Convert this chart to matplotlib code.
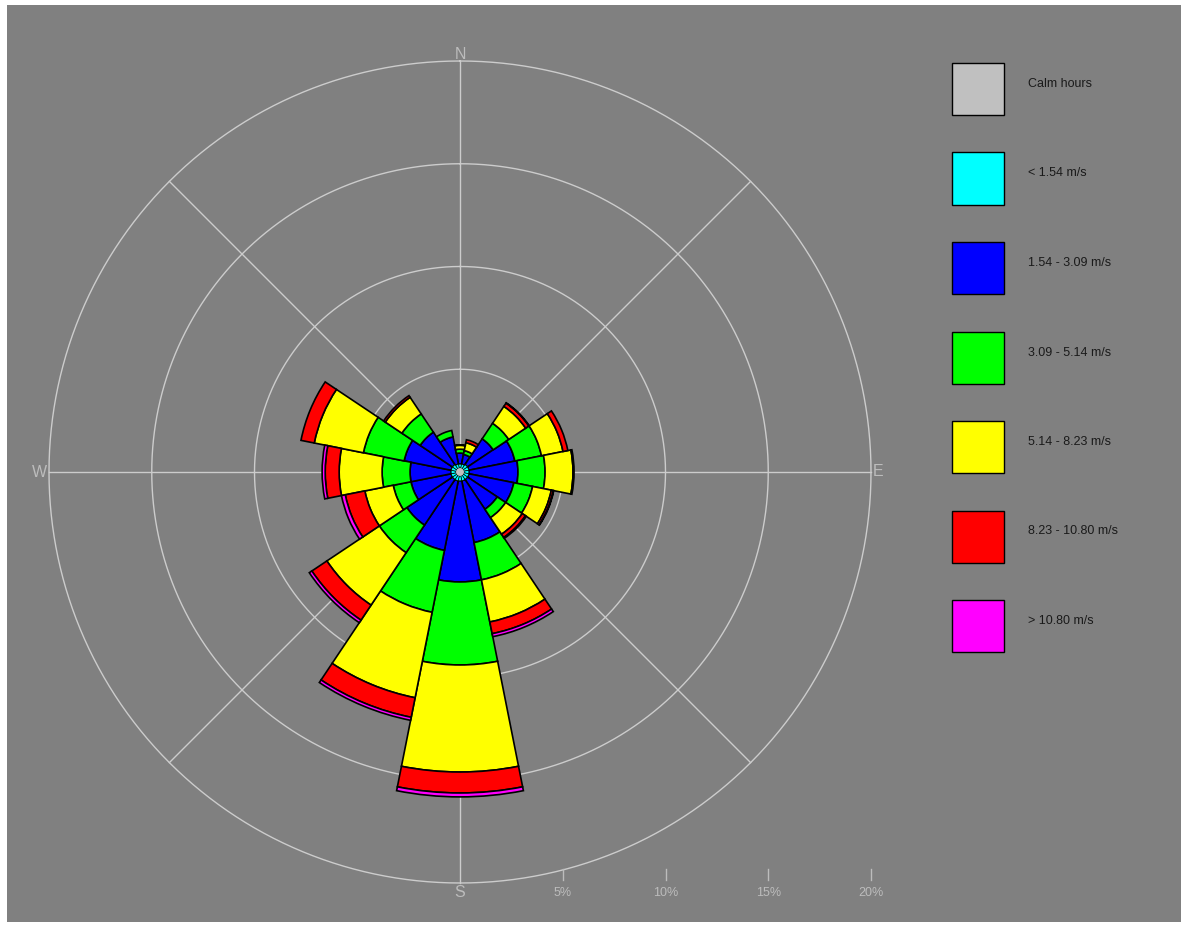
import numpy as np
import matplotlib
matplotlib.use("Agg")
import matplotlib.pyplot as plt
from matplotlib.patches import Rectangle
from matplotlib.lines import Line2D

plt.rcParams["font.family"] = ["Liberation Sans", "DejaVu Sans"]

# ---- data -------------------------------------------------------------
directions = ["N", "NNE", "NE", "ENE", "E", "ESE", "SE", "SSE",
              "S", "SSW", "SW", "WSW", "W", "WNW", "NW", "NNW"]

calm_label = "Calm hours"
calm_pct = 0.19

speed_classes = ["< 1.54 m/s", "1.54 - 3.09 m/s", "3.09 - 5.14 m/s",
                 "5.14 - 8.23 m/s", "8.23 - 10.80 m/s", "> 10.80 m/s"]

# frequency (%) of each speed class per direction
freq_0_154 = [0.19, 0.19, 0.24, 0.24, 0.24, 0.24, 0.24, 0.24,
              0.24, 0.24, 0.24, 0.24, 0.24, 0.24, 0.24, 0.19]
freq_154_309 = [0.54, 0.49, 1.51, 2.29, 2.39, 2.24, 1.75, 3.07,
                4.92, 3.46, 2.68, 2.00, 2.00, 2.34, 1.90, 1.36]
freq_309_514 = [0.19, 0.19, 0.91, 1.32, 1.32, 0.93, 0.49, 1.85,
                4.04, 3.07, 1.61, 0.88, 1.36, 2.02, 1.07, 0.32]
freq_514_823 = [0.19, 0.39, 0.99, 1.07, 1.36, 0.93, 0.97, 2.09,
                5.21, 4.24, 3.07, 1.41, 2.09, 2.44, 0.97, 0.00]
freq_823_1080 = [0.02, 0.15, 0.19, 0.24, 0.05, 0.10, 0.19, 0.58,
                 1.02, 0.97, 0.88, 0.97, 0.68, 0.66, 0.10, 0.00]
freq_gt_1080 = [0.00, 0.00, 0.02, 0.00, 0.00, 0.02, 0.05, 0.15,
                0.19, 0.15, 0.15, 0.19, 0.15, 0.00, 0.00, 0.00]

ring_values = [5, 10, 15, 20]
ring_labels = ["5%", "10%", "15%", "20%"]
compass_labels = ["N", "E", "S", "W"]

# ---- styling ----------------------------------------------------------
calm_color = "#c0c0c0"
class_colors = ["#00ffff", "#0000ff", "#00ff00", "#ffff00", "#ff0000", "#ff00ff"]
bg_gray = "#808080"
grid_gray = "#cccccc"
label_gray = "#bcbcbc"

W, H = 1186, 927
cx, cy = 460, 472           # rose centre in pixels
ring_px = 411               # radius of the outermost ring in pixels
rmax = ring_values[-1]
rlim = rmax * 1.03          # a little headroom so the outer ring is not clipped
lim_px = ring_px * rlim / rmax

fig = plt.figure(figsize=(W / 100, H / 100), dpi=100)
fig.patch.set_facecolor("white")
fig.add_artist(Rectangle((7 / W, 5 / H), (1181 - 7) / W, (922 - 5) / H,
                         transform=fig.transFigure, facecolor=bg_gray,
                         edgecolor="none", zorder=0))

ax = fig.add_axes([(cx - lim_px) / W, (H - cy - lim_px) / H,
                   2 * lim_px / W, 2 * lim_px / H], projection="polar")
ax.set_facecolor("none")
ax.set_theta_zero_location("N")
ax.set_theta_direction(-1)
ax.set_ylim(0, rlim)
ax.axis("off")

# grid rings and spokes
t = np.linspace(0, 2 * np.pi, 721)
for rv in ring_values:
    ax.plot(t, np.full_like(t, rv), color=grid_gray, lw=1.0, zorder=1)
for a in np.deg2rad(np.arange(0, 360, 45)):
    ax.plot([a, a], [0, rmax], color=grid_gray, lw=1.0, zorder=1)

# stacked sectors
n = len(directions)
theta = np.deg2rad(np.arange(n) * 360.0 / n)
width = 2 * np.pi / n
series = [freq_0_154, freq_154_309, freq_309_514, freq_514_823,
          freq_823_1080, freq_gt_1080]
bottom = np.full(n, calm_pct)
for k, (vals, col) in enumerate(zip(series, class_colors)):
    vals = np.asarray(vals, dtype=float)
    mask = vals > 0
    ax.bar(theta[mask], vals[mask], width=width, bottom=bottom[mask],
           color=col, edgecolor="black",
           linewidth=0.5 if k == 0 else 1.2, zorder=3 if k else 3.5)
    bottom = bottom + vals

# calm disc in the centre
ax.bar(0, calm_pct, width=2 * np.pi, bottom=0, color=calm_color,
       edgecolor="none", zorder=4)

# compass letters, set just outside the outer ring
compass_offsets = [1.015, 1.018, 1.022, 1.022]
for lab, ang, off in zip(compass_labels, [0, 90, 180, 270], compass_offsets):
    ax.text(np.deg2rad(ang), rmax * off, lab, color=label_gray,
            fontsize=11.5, ha="center", va="center", zorder=2)

# percentage scale along the bottom
scale = ring_px / rmax
for rv, lab in zip(ring_values, ring_labels):
    xp = (cx + rv * scale) / W
    fig.add_artist(Line2D([xp, xp], [1 - 869 / H, 1 - 880 / H],
                          transform=fig.transFigure, color=label_gray, lw=1.0))
    fig.text(xp, 1 - 893 / H, lab, color=label_gray, fontsize=9,
             ha="center", va="center")

# legend
legend_labels = [calm_label] + speed_classes
legend_colors = [calm_color] + class_colors
box_x, box_w, box_h = 952, 52, 52
for i, (lab, col) in enumerate(zip(legend_labels, legend_colors)):
    top = 63 + i * 89.5
    fig.add_artist(Rectangle((box_x / W, 1 - (top + box_h) / H),
                             box_w / W, box_h / H, transform=fig.transFigure,
                             facecolor=col, edgecolor="black", lw=1.0, zorder=2))
    fig.text(1028 / W, 1 - (top + box_h / 2 - 5) / H, lab, color="#1a1a1a",
             fontsize=9, ha="left", va="center")

fig.savefig("out.png", dpi=100, facecolor=fig.get_facecolor())
